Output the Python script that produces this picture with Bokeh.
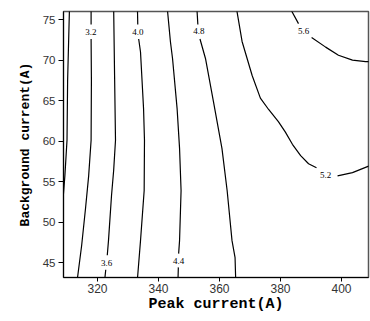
import numpy as np
from bokeh.plotting import figure
from bokeh.models import ColumnDataSource, LabelSet, Range1d, FixedTicker
from bokeh.embed import file_html
from bokeh.resources import INLINE

nan = float("nan")

# Contour lines (Peak current, Background current); nan = gap for label
c28_x = [310.8, 310.2, 310.0, 309.3, 308.8, 308.4]
c28_y = [76.3, 67.5, 60.1, 55.7, 53.3, 52.5]

c32_x = [317.9, 317.9, nan, 317.9, 318.0, 317.9, 317.1, 316.1, 314.8, 313.4]
c32_y = [76.3, 74.4, nan, 72.6, 67.5, 60.1, 55.7, 51.8, 47.1, 43.0]

c36_x = [325.3, 325.6, 325.9, 325.3, 324.6, 323.6, 323.2, nan, 322.7, 322.4]
c36_y = [76.3, 68.1, 60.1, 56.4, 53.3, 47.7, 45.9, nan, 44.1, 43.0]

c40_x = [333.1, 333.2, nan, 333.5, 334.1, 335.1, 335.4, 335.3, 334.1, 333.1]
c40_y = [76.3, 74.4, nan, 72.6, 71.0, 64.0, 60.1, 53.9, 47.7, 43.0]

c44_x = [342.9, 343.9, 344.6, 346.1, 346.9, 347.4, 346.9, 346.6, nan, 346.5, 346.4]
c44_y = [76.3, 72.3, 70.2, 64.0, 59.1, 53.9, 47.7, 46.1, nan, 44.4, 43.0]

c48_x = [352.6, 352.9, nan, 353.6, 355.4, 358.0, 360.8, 362.5, 364.1, 365.1, 365.3]
c48_y = [76.3, 74.4, nan, 72.6, 70.2, 64.9, 59.1, 53.9, 47.7, 45.6, 43.0]

c52_x = [365.6, 367.4, 370.7, 373.4, 376.1, 379.3, 381.6, 383.9, 386.6, 389.2, 391.8,
         nan, 398.7, 403.6, 408.9, 410.2]
c52_y = [76.3, 72.3, 68.1, 65.3, 63.9, 62.4, 61.1, 59.6, 58.2, 57.2, 56.7,
         nan, 55.7, 56.1, 56.9, 57.0]

c56_x = [383.3, 385.9, nan, 390.2, 394.8, 399.0, 403.6, 407.9, 410.2]
c56_y = [76.3, 74.5, nan, 72.8, 71.6, 70.6, 70.0, 69.8, 69.8]

contour_xs = [c28_x, c32_x, c36_x, c40_x, c44_x, c48_x, c52_x, c56_x]
contour_ys = [c28_y, c32_y, c36_y, c40_y, c44_y, c48_y, c52_y, c56_y]

label_text = ["3.2", "4.0", "4.8", "5.6", "3.6", "4.4", "5.2"]
label_x = [317.8, 333.2, 353.2, 387.6, 323.0, 346.6, 394.8]
label_y = [73.5, 73.5, 73.6, 73.6, 45.0, 45.2, 55.8]

x_ticks = [320, 340, 360, 380, 400]
y_ticks = [45, 50, 55, 60, 65, 70, 75]

p = figure(width=370, height=316, output_backend="svg", toolbar_location=None,
           x_range=Range1d(308.85, 408.85), y_range=Range1d(43.15, 76.0),
           min_border_left=63, min_border_right=2, min_border_top=11, min_border_bottom=39)

p.background_fill_color = "white"
p.border_fill_color = "white"
p.outline_line_color = "#555555"
p.outline_line_width = 1.5
p.xgrid.visible = False
p.ygrid.visible = False

for xs, ys in zip(contour_xs, contour_ys):
    p.line(np.array(xs, dtype=float), np.array(ys, dtype=float),
           line_color="black", line_width=1.2)

src = ColumnDataSource(dict(x=label_x, y=label_y, t=label_text))
p.add_layout(LabelSet(x="x", y="y", text="t", source=src,
                      text_font="Liberation Sans", text_font_size="9px",
                      text_align="center", text_baseline="middle",
                      text_color="black"))

for ax in (p.xaxis[0], p.yaxis[0]):
    ax.axis_line_color = "black"
    ax.axis_line_width = 1
    ax.major_tick_line_color = "black"
    ax.minor_tick_line_color = None
    ax.major_tick_in = 0
    ax.major_label_text_font = "Liberation Sans"
    ax.major_label_text_color = "#333333"
    ax.axis_label_text_font = "Liberation Mono"
    ax.axis_label_text_font_style = "bold"
    ax.axis_label_text_color = "black"

p.xaxis.ticker = FixedTicker(ticks=x_ticks)
p.yaxis.ticker = FixedTicker(ticks=y_ticks)

p.xaxis.axis_label = "Peak current(A)"
p.xaxis.axis_label_text_font_size = "15px"
p.xaxis.major_label_text_font_size = "12px"
p.xaxis.major_tick_out = 4
p.xaxis.major_label_standoff = 2
p.xaxis.axis_label_standoff = 0

p.yaxis.axis_label = "Background current(A)"
p.yaxis.axis_label_text_font_size = "13px"
p.yaxis.major_label_text_font_size = "11.5px"
p.yaxis.major_tick_out = 5
p.yaxis.major_label_standoff = 3
p.yaxis.axis_label_standoff = 7

open("out.html", "w").write(file_html(p, INLINE))
